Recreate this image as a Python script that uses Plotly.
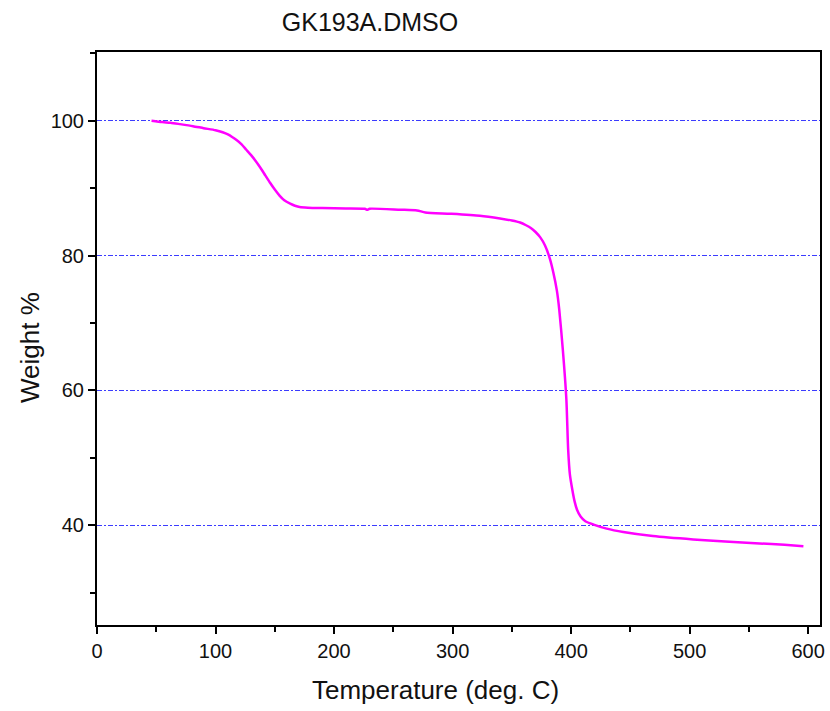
import plotly.graph_objects as go

temperature = [46, 55, 62, 70, 81, 90, 100, 106, 110, 114, 118, 122, 126, 130, 134, 138, 142, 146, 150, 154, 158,
               163, 167, 171, 178, 190, 210, 226, 228, 230, 256, 270, 277, 298, 323, 340, 350, 357, 362, 366, 370,
               374, 378, 382, 385, 388, 390, 393, 396, 397.5, 399, 401, 403, 405, 408, 412, 419, 430, 444, 469, 503,
               530, 559, 580, 596]
weight = [100, 99.8, 99.7, 99.5, 99.2, 98.9, 98.6, 98.3, 98.0, 97.6, 97.1, 96.5, 95.7, 94.9, 94.0, 93.0, 91.9,
          90.8, 89.8, 88.9, 88.2, 87.7, 87.4, 87.2, 87.1, 87.05, 87.0, 86.95, 86.8, 86.95, 86.8, 86.7, 86.4, 86.2,
          85.9, 85.5, 85.2, 84.9, 84.5, 84.1, 83.5, 82.7, 81.5, 79.6, 77.5, 74.8, 72, 66.1, 58.7, 51.3, 47.5, 45.3,
          43.5, 42.3, 41.3, 40.6, 40.1, 39.5, 39.0, 38.4, 37.9, 37.6, 37.3, 37.1, 36.9]

x_ticks = [0, 100, 200, 300, 400, 500, 600]
y_ticks = [40, 60, 80, 100]

FONT = "Liberation Sans, Arial, sans-serif"
TXT = "#111111"

fig = go.Figure()
fig.add_trace(go.Scatter(x=temperature, y=weight, mode="lines", line_shape="spline",
                         line=dict(color="#ff00ff", width=2.5, smoothing=0.6), showlegend=False))

fig.update_layout(
    width=830, height=711,
    margin=dict(l=97, r=10, t=52, b=86),
    paper_bgcolor="white", plot_bgcolor="white",
    font=dict(family=FONT, color=TXT),
    title=dict(text="GK193A.DMSO", x=370 / 830, xref="container", xanchor="center",
               y=1 - 22 / 711, yref="container", yanchor="middle",
               font=dict(family=FONT, size=25, color=TXT)),
)

fig.update_xaxes(
    range=[0, 610], tickvals=x_ticks, ticks="outside", ticklen=7, tickwidth=2, tickcolor="black",
    showline=True, linecolor="black", linewidth=2, mirror=True, showgrid=False, zeroline=False,
    automargin=False,
    tickfont=dict(size=20, family=FONT, color=TXT),
    minor=dict(dtick=50, tick0=0, ticks="outside", ticklen=5, tickwidth=2, tickcolor="black", showgrid=False),
)
fig.update_yaxes(
    range=[25.2, 110.2], tickvals=y_ticks, ticks="outside", ticklen=7, tickwidth=2, tickcolor="black",
    showline=True, linecolor="black", linewidth=2, mirror=True, zeroline=False, automargin=False,
    showgrid=True, gridcolor="#3c3cff", gridwidth=1, griddash="5px,2px,2px,2px",
    tickfont=dict(size=20, family=FONT, color=TXT),
    minor=dict(dtick=10, tick0=0, ticks="outside", ticklen=5, tickwidth=2, tickcolor="black", showgrid=False),
)

fig.add_annotation(text="Temperature (deg. C)", xref="paper", yref="paper",
                   x=(435 - 97) / 723, y=-(690 - 625) / 573, xanchor="center", yanchor="middle",
                   showarrow=False, font=dict(family=FONT, size=26, color=TXT))
fig.add_annotation(text="Weight %", xref="paper", yref="paper", textangle=-90,
                   x=(30 - 97) / 723, y=(625 - 348) / 573, xanchor="center", yanchor="middle",
                   showarrow=False, font=dict(family=FONT, size=26, color=TXT))

fig.write_html("out.html", config={"displayModeBar": False},
               post_script="document.body.style.margin='0';document.body.style.overflow='hidden';")
